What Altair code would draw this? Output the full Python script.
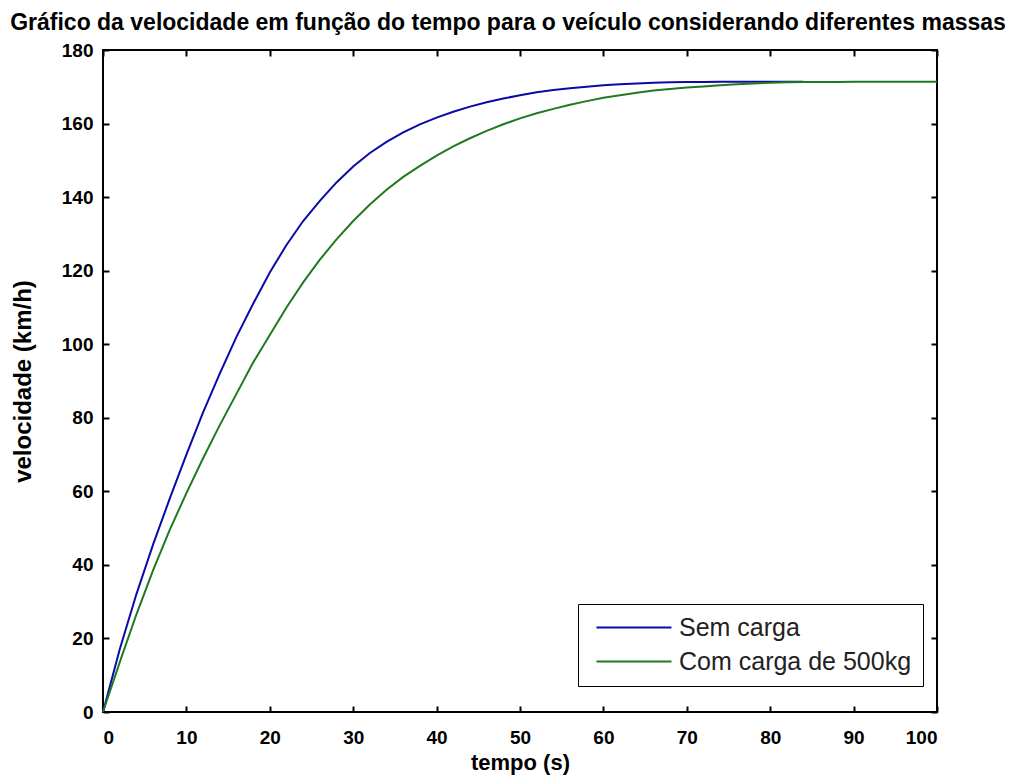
import altair as alt
import pandas as pd

# Time samples (s) and read-off velocities (km/h)
t_sem = [0, 2, 4, 6, 8, 10, 12, 14, 16, 18, 20, 22, 24, 26, 28, 30, 32, 34, 36, 38, 40,
         42, 44, 46, 48, 50, 52, 54, 56, 58, 60, 62, 64, 66, 68, 70, 72, 74, 76, 78, 80, 82, 84]
v_sem = [0, 17, 32, 45.5, 58, 70, 81.5, 92, 102, 111, 119.5, 127, 133.5, 139, 144, 148.3,
         152, 155, 157.6, 159.8, 161.6, 163.2, 164.6, 165.8, 166.8, 167.7, 168.5, 169.1,
         169.6, 170, 170.4, 170.7, 170.9, 171.1, 171.2, 171.3, 171.3, 171.4, 171.4, 171.4,
         171.4, 171.4, 171.4]

t_com = [0, 2, 4, 6, 8, 10, 12, 14, 16, 18, 20, 22, 24, 26, 28, 30, 32, 34, 36, 38, 40,
         42, 44, 46, 48, 50, 52, 54, 56, 58, 60, 62, 64, 66, 68, 70, 72, 74, 76, 78, 80,
         82, 84, 86, 88, 90, 92, 94, 96, 98, 100]
v_com = [0, 13.5, 26.5, 38.5, 49.5, 59.5, 69, 78, 86.5, 95, 102.5, 110, 116.8, 123, 128.5,
         133.5, 138, 142, 145.5, 148.5, 151.3, 153.8, 156, 158, 159.8, 161.4, 162.8, 164,
         165.1, 166.1, 167, 167.7, 168.4, 169, 169.4, 169.8, 170.1, 170.4, 170.7, 170.9,
         171.1, 171.2, 171.3, 171.3, 171.3, 171.4, 171.4, 171.4, 171.4, 171.4, 171.4]

series_names = ["Sem carga", "Com carga de 500kg"]
series_colors = ["#0a0aa8", "#1f7a1f"]

x_ticks = list(range(0, 101, 10))
y_ticks = list(range(0, 181, 20))

df = pd.concat([
    pd.DataFrame({"tempo": t_sem, "vel": v_sem, "serie": series_names[0]}),
    pd.DataFrame({"tempo": t_com, "vel": v_com, "serie": series_names[1]}),
])

FONT = "Liberation Sans"

xscale = alt.Scale(domain=[0, 100], nice=False)
yscale = alt.Scale(domain=[0, 180], nice=False)

lines = alt.Chart(df).mark_line(strokeWidth=2).encode(
    x=alt.X("tempo:Q", scale=xscale, title="tempo (s)",
            axis=alt.Axis(values=x_ticks, offset=-6, tickSize=6, domain=False, grid=False,
                          labelPadding=16, tickColor="black", tickWidth=2,
                          labelFont=FONT, labelFontSize=19, labelFontWeight="bold",
                          labelColor="black", titleFont=FONT, titleFontSize=22,
                          titleFontWeight="bold", titleColor="black", titlePadding=5)),
    y=alt.Y("vel:Q", scale=yscale, title="velocidade (km/h)",
            axis=alt.Axis(values=y_ticks, offset=-6, tickSize=6, domain=False, grid=False,
                          labelPadding=10, tickColor="black", tickWidth=2,
                          labelFont=FONT, labelFontSize=19, labelFontWeight="bold",
                          labelColor="black", titleFont=FONT, titleFontSize=24,
                          titleFontWeight="bold", titleColor="black", titlePadding=26)),
    color=alt.Color("serie:N",
                    scale=alt.Scale(domain=series_names, range=series_colors),
                    legend=alt.Legend(title=None, orient="none", legendX=475, legendY=554,
                                      symbolType="M-0.67,0H9.33", symbolSize=225,
                                      symbolStrokeWidth=2, labelFont=FONT, labelFontSize=25,
                                      labelColor="#222", labelLimit=400,
                                      strokeColor="black", fillColor="white",
                                      padding=11, rowPadding=8, labelOffset=65)),
)

frame = alt.Chart(df).mark_line(opacity=0).encode(
    x=alt.X("tempo:Q", scale=xscale,
            axis=alt.Axis(orient="top", values=x_ticks, offset=-6, tickSize=6, domain=False,
                          grid=False, labels=False, title=None, tickColor="black",
                          tickWidth=2)),
    y=alt.Y("vel:Q", scale=yscale,
            axis=alt.Axis(orient="right", values=y_ticks, offset=-6, tickSize=6,
                          domain=False, grid=False, labels=False, title=None,
                          tickColor="black", tickWidth=2)),
    detail="serie:N",
)

chart = alt.layer(lines, frame).resolve_scale(x="independent", y="independent").properties(
    width=834,
    height=662,
    autosize="none",
    padding={"left": 95, "top": 42, "right": 71, "bottom": 64},
    title=alt.TitleParams(
        "Gráfico da velocidade em função do tempo para o veículo considerando diferentes massas",
        font=FONT, fontSize=23, fontWeight="bold", color="black", offset=6, dx=-12,
        anchor="middle"),
    background="white",
).configure_view(stroke="black", strokeWidth=2)

chart.save("out.html", embed_options={"renderer": "svg", "actions": False})
